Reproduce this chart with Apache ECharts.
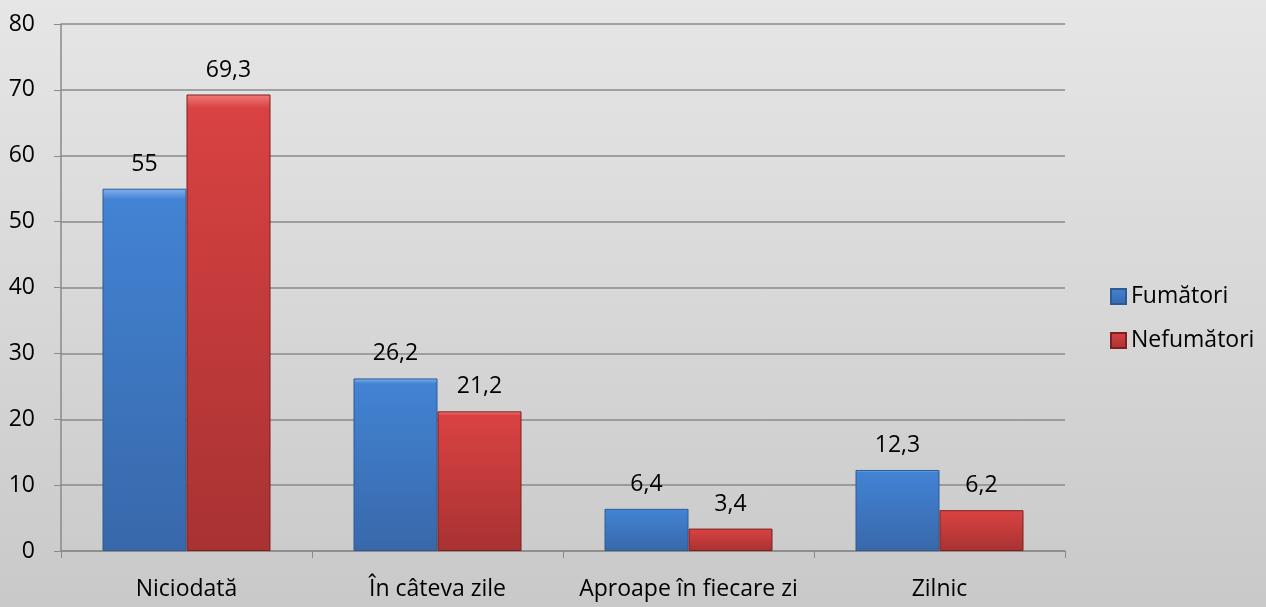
<!DOCTYPE html>
<html><head><meta charset="utf-8">
<script src="https://cdn.jsdelivr.net/npm/echarts@6/dist/echarts.min.js"></script>
<style>html,body{margin:0;padding:0;}#c{width:1266px;height:607px;background:linear-gradient(to bottom,#e6e6e6,#c9c9c9);}</style>
</head><body><div id="c"></div>
<script>
const categories = ['Niciodată', 'În câteva zile', 'Aproape în fiecare zi', 'Zilnic'];
const fumatori = [55, 26.2, 6.4, 12.3];
const nefumatori = [69.3, 21.2, 3.4, 6.2];
const seriesNames = ['Fumători', 'Nefumători'];

const chart = echarts.init(document.getElementById('c'), null, {renderer: 'canvas'});
const font = 'Open Sans, DejaVu Sans, sans-serif';
function grad(light, mid, dark) {
  return new echarts.graphic.LinearGradient(0, 0, 0, 1, [
    {offset: 0, color: light}, {offset: 0.03, color: mid}, {offset: 1, color: dark}
  ]);
}
const fmt = p => String(p.value).replace('.', ',');
const fs = 23;
chart.setOption({
  animation: false,
  grid: {left: 61, right: 201, top: 24, bottom: 56},
  legend: {
    orient: 'vertical', left: 1105, top: 280, itemWidth: 15, itemHeight: 15, itemGap: 21, icon: 'rect',
    textStyle: {fontFamily: font, fontSize: fs, color: '#000'},
    data: seriesNames
  },
  xAxis: {
    type: 'category', data: categories,
    axisLine: {lineStyle: {color: '#8a8a8a', width: 1.5}},
    axisTick: {show: true, length: 7, lineStyle: {color: '#8a8a8a'}},
    axisLabel: {interval: 0, fontFamily: font, fontSize: fs, color: '#000', margin: 27}
  },
  yAxis: {
    type: 'value', min: 0, max: 80, interval: 10,
    axisLine: {show: true, lineStyle: {color: '#8a8a8a', width: 1.5}},
    axisTick: {show: true, length: 7, lineStyle: {color: '#8a8a8a'}},
    splitLine: {lineStyle: {color: '#8a8a8a', width: 1.5}},
    axisLabel: {fontFamily: font, fontSize: fs, color: '#000', margin: 26}
  },
  series: [
    {name: seriesNames[0], type: 'bar', data: fumatori, barWidth: 84, barGap: '0%',
     itemStyle: {color: grad('#7fb2ee', '#4283d3', '#3868aa'), borderColor: '#2f5b94', borderWidth: 1},
     label: {show: true, position: 'top', distance: 13, formatter: fmt, fontFamily: font, fontSize: fs, color: '#000'}},
    {name: seriesNames[1], type: 'bar', data: nefumatori, barWidth: 84,
     itemStyle: {color: grad('#f07a7a', '#d94242', '#a83232'), borderColor: '#7f1f1f', borderWidth: 1},
     label: {show: true, position: 'top', distance: 13, formatter: fmt, fontFamily: font, fontSize: fs, color: '#000'}}
  ]
});
</script></body></html>
